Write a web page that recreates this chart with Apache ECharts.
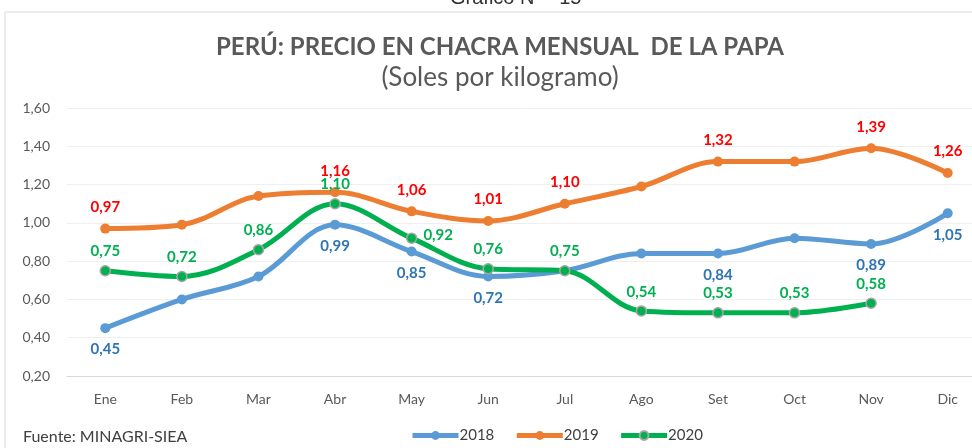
<!DOCTYPE html>
<html>
<head>
<meta charset="utf-8">
<script src="https://cdn.jsdelivr.net/npm/echarts@6/dist/echarts.min.js"></script>
<style>
  html, body { margin: 0; padding: 0; background: #fff; overflow: hidden; }
  /* el grafico original esta recortado a la derecha */
  #chart { width: 1000px; height: 448px; }
</style>
</head>
<body>
<div id="chart"></div>
<script>
// datos
var meses = ['Ene', 'Feb', 'Mar', 'Abr', 'May', 'Jun', 'Jul', 'Ago', 'Set', 'Oct', 'Nov', 'Dic']
var yTicks = [0.2, 0.4, 0.6, 0.8, 1.0, 1.2, 1.4, 1.6]
var p2018 = [0.45, 0.60, 0.72, 0.99, 0.85, 0.72, 0.75, 0.84, 0.84, 0.92, 0.89, 1.05]
var p2019 = [0.97, 0.99, 1.14, 1.16, 1.06, 1.01, 1.10, 1.19, 1.32, 1.32, 1.39, 1.26]
var p2020 = [0.75, 0.72, 0.86, 1.10, 0.92, 0.76, 0.75, 0.54, 0.53, 0.53, 0.58, null]
// que meses llevan etiqueta
var lbl2018 = [1, 0, 0, 1, 1, 1, 0, 0, 1, 0, 1, 1]
var lbl2019 = [1, 0, 0, 1, 1, 1, 1, 0, 1, 0, 1, 1]

var FONT = 'Lato, "Open Sans", sans-serif'

function coma (v) { return v.toFixed(2).replace('.', ',') }

function conEtiquetas (vals, flags, extra) {
  return vals.map(function (v, i) {
    var o = { value: v }
    if (flags && !flags[i]) o.label = { show: false }
    if (extra && extra[i]) o.label = extra[i]
    return o
  })
}

var chart = echarts.init(document.getElementById('chart'), null, { renderer: 'canvas' })

var lblBase = { show: true, fontFamily: FONT, fontWeight: 'bold', fontSize: 15, formatter: function (p) { return coma(p.value) } }

chart.setOption({
  backgroundColor: '#fff',
  animation: false,
  title: [
    { text: 'PERÚ: PRECIO EN CHACRA MENSUAL  DE LA PAPA', left: 'center', top: 30,
      textStyle: { fontFamily: FONT, fontWeight: 'bold', fontSize: 24, color: '#595959' } },
    { text: '(Soles por kilogramo)', left: 'center', top: 60,
      textStyle: { fontFamily: FONT, fontWeight: 'normal', fontSize: 26, color: '#595959' } }
  ],
  graphic: [
    { type: 'rect', shape: { x: 5, y: 12, width: 1100, height: 500 }, style: { fill: 'none', stroke: '#d9d9d9', lineWidth: 1 }, silent: true },
    { type: 'text', left: 450, top: -12, style: { text: 'Gráfico N°   15', font: '20px "Liberation Sans", Arial', fill: '#333' } },
    { type: 'text', left: 23, top: 429, style: { text: 'Fuente: MINAGRI-SIEA', font: '16px ' + FONT, fill: '#404040' } }
  ],
  legend: {
    bottom: 0, left: 405, itemGap: 20, itemWidth: 46, itemHeight: 11,
    lineStyle: { width: 5 },
    textStyle: { fontFamily: FONT, fontSize: 15, color: '#404040', padding: [0, 0, 0, -4] },
    data: ['2018', '2019', '2020']
  },
  grid: { left: 67, right: 14, top: 108, bottom: 72 },
  xAxis: {
    type: 'category', data: meses, boundaryGap: true,
    axisLine: { lineStyle: { color: '#d9d9d9' } }, axisTick: { show: false },
    axisLabel: { fontFamily: FONT, fontSize: 14, color: '#595959', margin: 16 }
  },
  yAxis: {
    type: 'value', min: yTicks[0], max: yTicks[yTicks.length - 1], interval: 0.2,
    axisLabel: { fontFamily: FONT, fontSize: 14, color: '#595959', margin: 17, formatter: function (v) { return coma(v) } },
    splitLine: { lineStyle: { color: '#efefef' } },
    axisLine: { show: false }, axisTick: { show: false }
  },
  series: [
    { name: '2018', type: 'line', smooth: 0.35, data: conEtiquetas(p2018, lbl2018),
      symbol: 'circle', symbolSize: 10, z: 2,
      lineStyle: { width: 5, color: '#5b9bd5' }, itemStyle: { color: '#5b9bd5' },
      label: Object.assign({}, lblBase, { position: 'bottom', distance: 9, color: '#2e75b6' }) },
    { name: '2019', type: 'line', smooth: 0.35, data: conEtiquetas(p2019, lbl2019),
      symbol: 'circle', symbolSize: 10, z: 3,
      lineStyle: { width: 5, color: '#ed7d31' }, itemStyle: { color: '#ed7d31' },
      label: Object.assign({}, lblBase, { position: 'top', distance: 9, color: '#ff0000' }) },
    { name: '2020', type: 'line', smooth: 0.35,
      data: conEtiquetas(p2020, null, { 4: { position: 'right', distance: 6, offset: [0, -3] } }),
      symbol: 'circle', symbolSize: 10, z: 4,
      lineStyle: { width: 5, color: '#00b050' }, itemStyle: { color: '#00b050', borderColor: '#a6a6a6', borderWidth: 1.5 },
      label: Object.assign({}, lblBase, { position: 'top', distance: 6, color: '#00b050' }) }
  ]
})
</script>
</body>
</html>
